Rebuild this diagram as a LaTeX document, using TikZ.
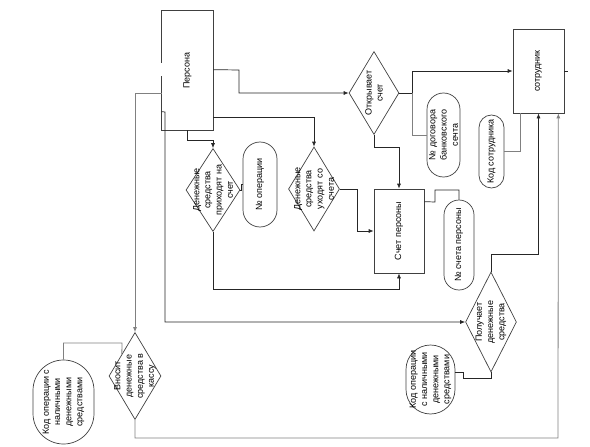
\documentclass[tikz,border=0pt]{standalone}
\usepackage{fontspec}
\setmainfont{Liberation Sans}
\usetikzlibrary{shapes.geometric,arrows.meta,calc}
\tikzset{
  shp/.style={draw=black!75, line width=0.7pt, inner sep=0pt},
  rbox/.style={shp, rectangle},
  dia/.style={shp, diamond},
  stad/.style={shp, rectangle, rounded corners=#1},
  txt/.style={rotate=90, align=center, inner sep=0pt, font=\fontsize{9}{11.2}\selectfont},
  con/.style={draw=black!85, line width=0.7pt},
  gcon/.style={draw=black!50, line width=0.8pt},
  arr/.style={-{Latex[length=5pt,width=4pt]}}
}
\begin{document}
\begin{tikzpicture}[x=1pt,y=-1pt]
\useasboundingbox (0,0) rectangle (590,447);

% shapes
\node[rbox, draw=none, minimum width=51pt, minimum height=119pt] (pers) at (187.5,70.5) {};
\draw[shp] ($(pers.north west)+(0,52)$) -- (pers.north west) -- (pers.north east) -- (pers.south east) -- (pers.south west) -- ($(pers.north west)+(0,65)$);
\node[txt] (persT) at (pers) {Персона};

\node[dia, minimum width=50pt, minimum height=83pt] (otkr) at (374,93) {};
\node[txt] (otkrT) at (otkr) {Открывает\\счет};

\node[rbox, minimum width=51pt, minimum height=84pt] (sotr) at (538.5,71) {};
\node[txt] (sotrT) at (sotr) {сотрудник};

\node[dia, minimum width=54pt, minimum height=83pt] (d1) at (213,190) {};
\node[txt] (d1T) at (d1) {Денежные\\средства\\приходят на\\счет};

\node[stad=17pt, minimum width=34pt, minimum height=85pt] (nop) at (260,184.5) {};
\node[txt] (nopT) at (nop) {№ операции};

\node[dia, minimum width=51pt, minimum height=84pt] (d2) at (314,189) {};
\node[txt] (d2T) at (d2) {Денежные\\средства\\уходят со\\счета};

\node[rbox, minimum width=50pt, minimum height=84pt] (schet) at (399,231) {};
\node[txt] (schetT) at (schet) {Счет персоны};

\node[stad=16.5pt, minimum width=33pt, minimum height=84pt] (ndog) at (443.5,135) {};
\node[txt] (ndogT) at (ndog) {№ договора\\банковского\\сечта};

\node[stad=12.5pt, minimum width=25pt, minimum height=73pt] (kods) at (491.5,151.5) {};
\node[txt] (kodsT) at (kods) {Код сотрудника};

\node[stad=15pt, minimum width=30pt, minimum height=90pt] (nsch) at (459,245) {};
\node[txt] (nschT) at (nsch) {№ счета персоны};

\node[dia, minimum width=51pt, minimum height=100pt] (pol) at (491,322) {};
\node[txt] (polT) at (pol) {Получает\\денежные\\средства};

\node[stad=24.5pt, minimum width=49pt, minimum height=69pt] (kod2) at (430.5,379.5) {};
\node[txt] (kod2T) at (kod2) {Код операции\\с наличными\\денежными\\средствами};

\node[dia, minimum width=52pt, minimum height=87pt] (vnos) at (135,376) {};
\node[txt] (vnosT) at (vnos) {Вносит\\денежные\\средства в\\кассу};

\node[stad=30.5pt, minimum width=61pt, minimum height=84pt] (kod1) at (63.5,402) {};
\node[txt] (kod1T) at (kod1) {Код операции с\\наличными\\денежными\\средствами};

% connectors
\draw[con,arr] ($(pers.north east)+(0,59)$) -- (239,70) |- (otkr.west);
\draw[con,arr] (otkr.east) -- (412,93) |- (sotr.west);
\draw[gcon] (412,93) |- (ndog.west);
\draw[con,arr] (otkr.south) -- (374,147) -| (schet.north);
\draw[con,arr] ($(pers.north east)+(0,107)$) -| (d2.north);
\draw[con,arr] (pers.south) -- (187.5,140) -| (d1.north);
\draw[con] (d1.east) -- (241.5,190) |- (nop.west);
\draw[con,arr] (d2.east) -- (357,189) |- (schet.west);
\draw[con,arr] (d1.south) |- (399,289) -- (schet.south);
\draw[con] ($(schet.north east)+(0,13)$) -- (435,202) |- (459,190) -- (nsch.north);
\draw[gcon] (kods.east) -| ($(sotr.south west)+(8,0)$);
\draw[con,arr] (pol.north) |- (538.5,254) -- (sotr.south);
\draw[gcon,arr] ($(pers.north west)+(0,83)$) -| (vnos.north);
\draw[con,arr] ($(pers.north west)+(0,101)$) -- (165,112) |- (pol.west);
\draw[gcon,arr] (vnos.south) |- (558,438) -- ($(sotr.south east)+(-6,0)$);
\draw[gcon] (kod1.north) |- (122,343) -- (vnos.north west);
\draw[con] (pol.south) |- (463,378) -- (463,372) -- (455,372);
\draw[con] (sotr.east) -- ++(4,0);
\end{tikzpicture}
\end{document}
